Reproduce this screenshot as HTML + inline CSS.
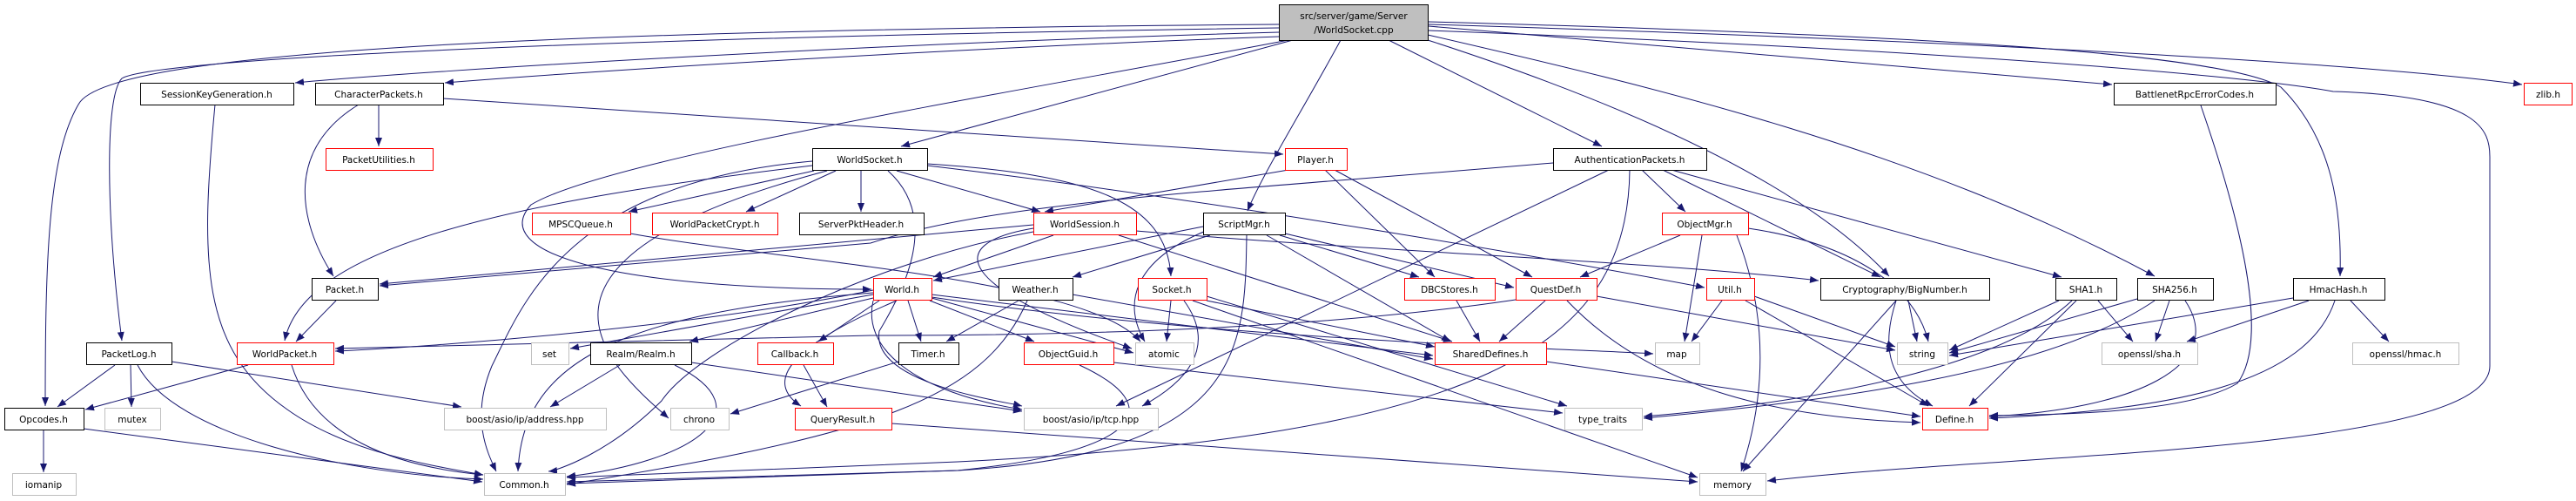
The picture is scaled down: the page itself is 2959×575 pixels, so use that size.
<!DOCTYPE html>
<html><head><meta charset="utf-8"><style>
html,body{margin:0;padding:0;background:#fff;}
svg{display:block;}
text{font-family:"DejaVu Sans","Liberation Sans",sans-serif;font-size:10.5px;fill:#000;text-anchor:middle;}
.e{fill:none;stroke:#191970;stroke-width:1;marker-end:url(#a);}
.b{fill:#fff;stroke:#000;stroke-width:1;}
.r{fill:#fff;stroke:#ff0000;stroke-width:1;}
.g{fill:#fff;stroke:#bfbfbf;stroke-width:1;}
</style></head><body>
<svg width="2959" height="575" viewBox="0 0 2959 575" xmlns="http://www.w3.org/2000/svg">
<defs><marker id="a" markerUnits="userSpaceOnUse" markerWidth="10" markerHeight="8" refX="10" refY="4" orient="auto"><path d="M0,0 L10,4 L0,8 z" fill="#191970"/></marker></defs>
<g>
<path class="e" d="M1469,28 C600,35 120,60 90,120 C55,180 52,300 52,466"/>
<path class="e" d="M1469,32 C600,45 170,70 140,90 C120,110 122,250 140,391"/>
<path class="e" d="M1469,37 C1000,50 500,80 339,95"/>
<path class="e" d="M1469,42 C1100,55 700,80 511,95"/>
<path class="e" d="M1480,46 C1200,100 700,180 610,235 C560,290 700,332 1001,332"/>
<path class="e" d="M1485,46 L1035,168"/>
<path class="e" d="M1540,46 C1500,120 1450,200 1433,242"/>
<path class="e" d="M1595,46 L1840,168"/>
<path class="e" d="M1640,46 C1900,130 2080,220 2170,317"/>
<path class="e" d="M1640,40 C1900,100 2200,170 2475,317"/>
<path class="e" d="M1641,30 L2426,97"/>
<path class="e" d="M1641,25 C2200,40 2550,60 2620,100 C2680,160 2690,240 2688,317"/>
<path class="e" d="M1641,28 C2200,45 2700,70 2897,97"/>
<path class="e" d="M1641,35 C2300,60 2600,90 2680,105 C2850,110 2860,150 2860,180 L2860,420 C2860,520 2300,520 2030,552"/>
<path class="e" d="M435,120 L435,168"/>
<path class="e" d="M412,120 C330,170 340,250 383,317"/>
<path class="e" d="M509,113 L1474,177"/>
<path class="e" d="M247,120 C230,300 230,400 330,470 C400,520 500,535 555,545"/>
<path class="e" d="M1480,195 L1200,243"/>
<path class="e" d="M1522,195 L1648,318"/>
<path class="e" d="M1533,195 L1760,318"/>
<path class="e" d="M1784,187 C1400,220 1150,230 1000,279 L436,328"/>
<path class="e" d="M1886,195 L1936,243"/>
<path class="e" d="M1910,195 L2160,318"/>
<path class="e" d="M1920,195 L2368,318"/>
<path class="e" d="M1872,195 C1870,400 1700,500 1100,530 L651,548"/>
<path class="e" d="M1848,195 L1282,466"/>
<path class="e" d="M935,196 L722,243"/>
<path class="e" d="M960,196 L857,243"/>
<path class="e" d="M989,196 L989,243"/>
<path class="e" d="M1030,196 L1195,243"/>
<path class="e" d="M1065,188 C1250,200 1340,230 1345,317"/>
<path class="e" d="M1065,190 C1400,230 1800,300 1958,330"/>
<path class="e" d="M933,190 C600,230 350,280 327,391"/>
<path class="e" d="M933,185 C650,210 600,350 565,420 C540,480 560,520 570,541"/>
<path class="e" d="M1020,196 C1080,250 1040,330 1010,380 C1000,440 1150,460 1174,466"/>
<path class="e" d="M950,196 C560,300 700,420 768,480"/>
<path class="e" d="M1210,270 L1072,318"/>
<path class="e" d="M1187,258 L436,326"/>
<path class="e" d="M1285,270 L1668,392"/>
<path class="e" d="M1305,265 C1600,290 1900,300 2089,322"/>
<path class="e" d="M1187,262 C1080,280 1100,330 1300,400"/>
<path class="e" d="M1187,266 C1000,300 800,400 760,460 C700,520 640,540 630,541"/>
<path class="e" d="M1382,260 L1072,322"/>
<path class="e" d="M1390,270 L1232,318"/>
<path class="e" d="M1470,270 L1630,318"/>
<path class="e" d="M1476,268 L1739,330"/>
<path class="e" d="M1455,270 L1666,392"/>
<path class="e" d="M1385,265 C1300,300 1290,350 1315,392"/>
<path class="e" d="M1432,270 C1430,400 1430,520 1100,540 L651,553"/>
<path class="e" d="M724,268 C900,300 1250,320 1310,392"/>
<path class="e" d="M1930,270 L1815,318"/>
<path class="e" d="M1955,270 L1935,392"/>
<path class="e" d="M2008,262 C2130,280 2200,330 2215,392"/>
<path class="e" d="M1995,270 C2030,360 2030,450 2000,541"/>
<path class="e" d="M1043,345 L1058,392"/>
<path class="e" d="M1068,345 L1188,392"/>
<path class="e" d="M1070,342 L1302,405"/>
<path class="e" d="M1070,338 L1646,408"/>
<path class="e" d="M1070,341 C1400,390 1800,400 1899,406"/>
<path class="e" d="M1003,338 L655,400"/>
<path class="e" d="M1003,342 L792,392"/>
<path class="e" d="M1010,345 L940,392"/>
<path class="e" d="M1030,345 C900,400 880,440 920,466"/>
<path class="e" d="M1003,333 C800,375 500,398 385,403"/>
<path class="e" d="M1003,336 C700,360 600,420 595,541"/>
<path class="e" d="M1003,345 C990,400 1050,450 1174,470"/>
<path class="e" d="M1170,345 L1087,392"/>
<path class="e" d="M1232,338 L1646,412"/>
<path class="e" d="M1180,345 C1130,460 1000,500 651,556"/>
<path class="e" d="M1345,345 L1340,392"/>
<path class="e" d="M1360,345 C1400,400 1360,440 1312,466"/>
<path class="e" d="M1386,340 L1800,466"/>
<path class="e" d="M1370,345 L1950,548"/>
<path class="e" d="M1386,345 L1648,398"/>
<path class="e" d="M1673,345 L1700,392"/>
<path class="e" d="M1775,345 L1722,392"/>
<path class="e" d="M1800,345 C1900,450 2050,480 2206,485"/>
<path class="e" d="M1834,340 L2177,402"/>
<path class="e" d="M1741,344 C1500,380 1200,385 1000,385 L385,400"/>
<path class="e" d="M1978,345 L1943,392"/>
<path class="e" d="M2015,340 L2177,398"/>
<path class="e" d="M2005,345 L2215,466"/>
<path class="e" d="M2192,345 L2202,392"/>
<path class="e" d="M2178,345 C2160,400 2170,440 2220,466"/>
<path class="e" d="M2178,345 L2002,541"/>
<path class="e" d="M2365,345 L2239,402"/>
<path class="e" d="M2410,345 L2450,392"/>
<path class="e" d="M2385,345 L2262,466"/>
<path class="e" d="M2380,345 C2300,420 2100,460 1888,478"/>
<path class="e" d="M2455,343 L2239,405"/>
<path class="e" d="M2492,345 L2476,392"/>
<path class="e" d="M2510,345 C2560,420 2450,470 2285,478"/>
<path class="e" d="M2475,345 C2350,430 2100,460 1888,480"/>
<path class="e" d="M2634,342 L2239,408"/>
<path class="e" d="M2652,345 L2512,392"/>
<path class="e" d="M2700,345 L2744,392"/>
<path class="e" d="M2682,345 C2650,440 2500,470 2285,480"/>
<path class="e" d="M2528,121 C2590,300 2600,400 2570,440 C2520,470 2400,476 2285,477"/>
<path class="e" d="M386,345 L340,392"/>
<path class="e" d="M285,419 L98,470"/>
<path class="e" d="M335,419 C360,500 450,535 555,545"/>
<path class="e" d="M132,419 L66,467"/>
<path class="e" d="M150,419 L151,467"/>
<path class="e" d="M197,415 L530,467"/>
<path class="e" d="M158,419 C200,500 400,545 555,550"/>
<path class="e" d="M50,494 L50,542"/>
<path class="e" d="M96,492 L554,553"/>
<path class="e" d="M712,419 L632,467"/>
<path class="e" d="M775,419 C880,470 800,530 651,547"/>
<path class="e" d="M794,416 L1174,472"/>
<path class="e" d="M923,419 L950,467"/>
<path class="e" d="M1024,486 L1950,553"/>
<path class="e" d="M1240,419 C1350,470 1300,520 1100,540 L651,555"/>
<path class="e" d="M1279,416 L1795,474"/>
<path class="e" d="M1032,415 L839,475"/>
<path class="e" d="M1776,415 L2206,478"/>
</g>
<g>
<rect x="1469.5" y="5.5" width="171" height="41" fill="#bfbfbf" stroke="#000"/>
<text x="1555" y="22">src/server/game/Server</text><text x="1555" y="38">/WorldSocket.cpp</text>
<rect class="b" x="161.5" y="95.5" width="176" height="25"/><text x="249" y="112">SessionKeyGeneration.h</text>
<rect class="b" x="362.5" y="95.5" width="147" height="25"/><text x="435" y="112">CharacterPackets.h</text>
<rect class="b" x="2428.5" y="95.5" width="186" height="25"/><text x="2521" y="112">BattlenetRpcErrorCodes.h</text>
<rect class="r" x="2899.5" y="95.5" width="55" height="25"/><text x="2927" y="112">zlib.h</text>
<rect class="r" x="374.5" y="170.5" width="123" height="25"/><text x="435" y="187">PacketUtilities.h</text>
<rect class="b" x="933.5" y="170.5" width="132" height="25"/><text x="999" y="187">WorldSocket.h</text>
<rect class="r" x="1476.5" y="170.5" width="71" height="25"/><text x="1511" y="187">Player.h</text>
<rect class="b" x="1784.5" y="170.5" width="176" height="25"/><text x="1872" y="187">AuthenticationPackets.h</text>
<rect class="r" x="611.5" y="244.5" width="113" height="25"/><text x="667" y="261">MPSCQueue.h</text>
<rect class="r" x="749.5" y="244.5" width="144" height="25"/><text x="821" y="261">WorldPacketCrypt.h</text>
<rect class="b" x="918.5" y="244.5" width="143" height="25"/><text x="989" y="261">ServerPktHeader.h</text>
<rect class="r" x="1187.5" y="244.5" width="118" height="25"/><text x="1246" y="261">WorldSession.h</text>
<rect class="b" x="1382.5" y="244.5" width="94" height="25"/><text x="1429" y="261">ScriptMgr.h</text>
<rect class="r" x="1909.5" y="244.5" width="99" height="25"/><text x="1958" y="261">ObjectMgr.h</text>
<rect class="b" x="358.5" y="319.5" width="76" height="25"/><text x="396" y="336">Packet.h</text>
<rect class="r" x="1003.5" y="319.5" width="67" height="25"/><text x="1036" y="336">World.h</text>
<rect class="b" x="1147.5" y="319.5" width="85" height="25"/><text x="1189" y="336">Weather.h</text>
<rect class="r" x="1307.5" y="319.5" width="79" height="25"/><text x="1346" y="336">Socket.h</text>
<rect class="r" x="1613.5" y="319.5" width="104" height="25"/><text x="1665" y="336">DBCStores.h</text>
<rect class="r" x="1741.5" y="319.5" width="93" height="25"/><text x="1787" y="336">QuestDef.h</text>
<rect class="r" x="1960.5" y="319.5" width="55" height="25"/><text x="1987" y="336">Util.h</text>
<rect class="b" x="2091.5" y="319.5" width="194" height="25"/><text x="2188" y="336">Cryptography/BigNumber.h</text>
<rect class="b" x="2361.5" y="319.5" width="70" height="25"/><text x="2396" y="336">SHA1.h</text>
<rect class="b" x="2455.5" y="319.5" width="87" height="25"/><text x="2498" y="336">SHA256.h</text>
<rect class="b" x="2634.5" y="319.5" width="105" height="25"/><text x="2686" y="336">HmacHash.h</text>
<rect class="b" x="99.5" y="393.5" width="98" height="25"/><text x="148" y="410">PacketLog.h</text>
<rect class="r" x="272.5" y="393.5" width="111" height="25"/><text x="327" y="410">WorldPacket.h</text>
<rect class="g" x="610.5" y="393.5" width="43" height="25"/><text x="631" y="410">set</text>
<rect class="b" x="678.5" y="393.5" width="116" height="25"/><text x="736" y="410">Realm/Realm.h</text>
<rect class="r" x="870.5" y="393.5" width="87" height="25"/><text x="913" y="410">Callback.h</text>
<rect class="b" x="1032.5" y="393.5" width="69" height="25"/><text x="1066" y="410">Timer.h</text>
<rect class="r" x="1176.5" y="393.5" width="103" height="25"/><text x="1227" y="410">ObjectGuid.h</text>
<rect class="g" x="1304.5" y="393.5" width="67" height="25"/><text x="1337" y="410">atomic</text>
<rect class="r" x="1648.5" y="393.5" width="128" height="25"/><text x="1712" y="410">SharedDefines.h</text>
<rect class="g" x="1901.5" y="393.5" width="51" height="25"/><text x="1926" y="410">map</text>
<rect class="g" x="2179.5" y="393.5" width="58" height="25"/><text x="2208" y="410">string</text>
<rect class="g" x="2414.5" y="393.5" width="110" height="25"/><text x="2469" y="410">openssl/sha.h</text>
<rect class="g" x="2702.5" y="393.5" width="122" height="25"/><text x="2763" y="410">openssl/hmac.h</text>
<rect class="b" x="5.5" y="468.5" width="91" height="25"/><text x="50" y="485">Opcodes.h</text>
<rect class="g" x="120.5" y="468.5" width="64" height="25"/><text x="152" y="485">mutex</text>
<rect class="g" x="510.5" y="468.5" width="186" height="25"/><text x="603" y="485">boost/asio/ip/address.hpp</text>
<rect class="g" x="770.5" y="468.5" width="67" height="25"/><text x="803" y="485">chrono</text>
<rect class="r" x="913.5" y="468.5" width="111" height="25"/><text x="968" y="485">QueryResult.h</text>
<rect class="g" x="1176.5" y="468.5" width="154" height="25"/><text x="1253" y="485">boost/asio/ip/tcp.hpp</text>
<rect class="g" x="1797.5" y="468.5" width="89" height="25"/><text x="1841" y="485">type_traits</text>
<rect class="r" x="2208.5" y="468.5" width="75" height="25"/><text x="2245" y="485">Define.h</text>
<rect class="g" x="14.5" y="543.5" width="73" height="25"/><text x="50" y="560">iomanip</text>
<rect class="g" x="556.5" y="543.5" width="93" height="25"/><text x="602" y="560">Common.h</text>
<rect class="g" x="1952.5" y="543.5" width="76" height="25"/><text x="1990" y="560">memory</text>
</g>
</svg>
</body></html>
